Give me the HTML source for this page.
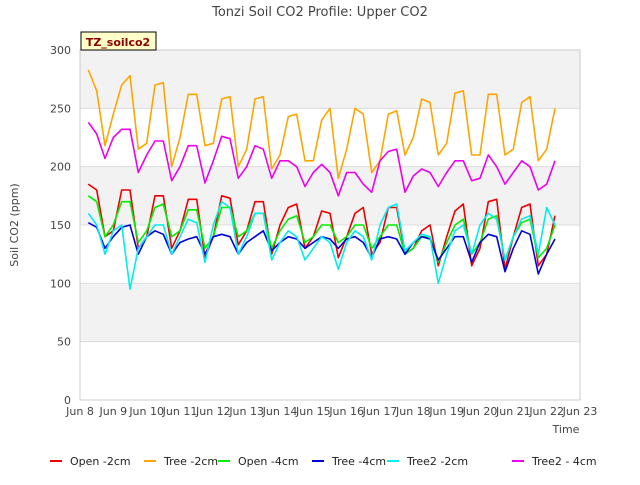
<!DOCTYPE html>
<html><head><meta charset="utf-8"><style>
body{margin:0;background:#fff;font-family:"Liberation Sans","DejaVu Sans",sans-serif}
svg text{font-family:"DejaVu Sans","Liberation Sans",sans-serif}
</style></head><body>
<svg id="chart" width="640" height="480" xmlns="http://www.w3.org/2000/svg">
<text x="320" y="16" text-anchor="middle" font-size="13" fill="#444">Tonzi Soil CO2 Profile: Upper CO2</text>
<g id="bands"></g>
<g id="grid"></g>
<rect x="80" y="50" width="500" height="350" fill="none" stroke="#ccc"/>
<g id="yticks"></g><g id="xticks"></g>
<text transform="translate(18,225) rotate(-90)" text-anchor="middle" font-size="11" fill="#444">Soil CO2 (ppm)</text>
<text x="566" y="433" text-anchor="middle" font-size="11" fill="#444">Time</text>
<g id="series"></g>
<g>
<rect x="81" y="32" width="75" height="18" fill="#ffffc8" stroke="#000"/>
<text x="118" y="46" text-anchor="middle" font-size="11" font-weight="bold" fill="#8b0000">TZ_soilco2</text>
</g>
<g id="legend"></g>
</svg>
<script>
const tStart = 8.25, tStep = 0.25;
const seriesNames = ["Open -2cm","Tree -2cm","Open -4cm","Tree -4cm","Tree2 -2cm","Tree2 - 4cm"];
const seriesColors = ["#ee0000","#ffa500","#00ee00","#0000dd","#00eeee","#ee00ee"];
const open2 = [185,180,140,145,180,180,130,140,175,175,130,145,172,172,122,140,175,173,133,145,170,170,125,150,165,168,130,140,162,160,122,140,160,165,125,135,165,165,125,130,145,150,115,140,162,168,115,130,170,172,112,140,165,168,115,125,158];
const tree2 = [283,265,218,245,270,278,215,220,270,272,200,225,262,262,218,220,258,260,200,215,258,260,198,210,243,245,205,205,240,250,190,215,250,245,195,205,245,248,210,225,258,255,210,220,263,265,210,210,262,262,210,215,255,260,205,215,250];
const open4 = [175,170,140,150,170,170,135,145,165,168,140,145,163,163,130,140,165,165,140,145,160,160,130,145,155,158,135,140,150,150,135,140,150,150,130,140,150,150,125,130,140,140,118,135,150,155,125,135,155,158,120,140,152,155,122,130,150];
const tree4 = [152,148,130,140,148,150,125,140,145,142,125,135,138,140,125,140,142,140,125,135,140,145,128,135,140,138,130,135,140,138,130,138,140,135,122,138,140,138,125,135,140,138,120,130,140,140,118,135,142,140,110,130,145,142,108,125,138];
const tree2_2 = [160,150,125,145,150,95,130,140,150,150,125,140,155,152,118,150,170,165,125,140,160,160,120,135,145,140,120,130,140,135,112,135,145,140,120,150,165,168,128,135,142,140,100,125,145,150,125,150,160,155,120,140,155,158,125,165,150];
const tree2_4 = [238,228,207,225,232,232,195,210,222,222,188,200,218,218,186,205,226,224,190,200,218,215,190,205,205,200,183,195,202,195,175,195,195,185,178,205,213,215,178,192,198,195,183,195,205,205,188,190,210,200,185,195,205,200,180,185,205];
const allSeries = [open2,tree2,open4,tree4,tree2_2,tree2_4];
const yTicks = [0,50,100,150,200,250,300];
const xTickLabels = ["Jun 8","Jun 9","Jun 10","Jun 11","Jun 12","Jun 13","Jun 14","Jun 15","Jun 16","Jun 17","Jun 18","Jun 19","Jun 20","Jun 21","Jun 22","Jun 23"];

const NS="http://www.w3.org/2000/svg";
const X = d => 80 + (d-8)*500/15;
const Y = v => 400 - v*350/300;
function mk(tag, parent){const e=document.createElementNS(NS,tag);document.getElementById(parent).appendChild(e);return e;}

for(let i=0;i<yTicks.length-1;i++){
  if(i%2===1){
    const r=mk('rect','bands');
    
    
    r.setAttribute('x',80);r.setAttribute('y',Y(yTicks[i+1]));r.setAttribute('width',500);
    r.setAttribute('height',Y(yTicks[i])-Y(yTicks[i+1]));r.setAttribute('fill','#f2f2f2');
  }
}
yTicks.forEach(v=>{
  const l=mk('line','grid');
  
  
  l.setAttribute('x1',80);l.setAttribute('x2',580);l.setAttribute('y1',Y(v));l.setAttribute('y2',Y(v));
  l.setAttribute('stroke','#dcdcdc');
  const t=mk('text','yticks');
  
  
  t.setAttribute('x',71);t.setAttribute('y',Y(v)+4);t.setAttribute('text-anchor','end');
  t.setAttribute('font-size','11');t.setAttribute('fill','#444');t.textContent=v;
});
xTickLabels.forEach((s,i)=>{
  const t=mk('text','xticks');
  
  
  t.setAttribute('x',X(8+i));t.setAttribute('y',415);t.setAttribute('text-anchor','middle');
  t.setAttribute('font-size','11');t.setAttribute('fill','#444');t.textContent=s;
});
allSeries.forEach((arr,k)=>{
  const p=mk('polyline','series');
  
  
  p.setAttribute('points',arr.map((v,i)=>X(tStart+i*tStep).toFixed(1)+','+Y(v).toFixed(1)).join(' '));
  p.setAttribute('fill','none');p.setAttribute('stroke',seriesColors[k]);p.setAttribute('stroke-width','1.6');
  p.setAttribute('stroke-linejoin','round');
});
const legX=[50,144,218,312,387,512];
seriesNames.forEach((n,k)=>{
  const g=mk('g','legend');
  
  
  const l=document.createElementNS(NS,'line');g.appendChild(l);
  l.setAttribute('x1',legX[k]);l.setAttribute('x2',legX[k]+12);l.setAttribute('y1',461);l.setAttribute('y2',461);
  l.setAttribute('stroke',seriesColors[k]);l.setAttribute('stroke-width','2');
  const t=document.createElementNS(NS,'text');g.appendChild(t);
  t.setAttribute('x',legX[k]+20);t.setAttribute('y',465);t.setAttribute('font-size','11');t.setAttribute('fill','#222');
  t.textContent=n;
});
</script>
</body></html>
